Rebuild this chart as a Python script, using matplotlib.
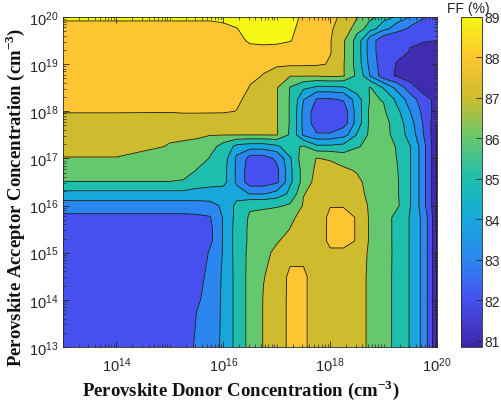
import numpy as np
import matplotlib.pyplot as plt
from matplotlib.colors import LinearSegmentedColormap, Normalize
from matplotlib.cm import ScalarMappable
from matplotlib.ticker import LogLocator, FixedLocator, NullFormatter

plt.rcParams['mathtext.fontset'] = 'custom'
plt.rcParams['mathtext.rm'] = 'Liberation Sans'
plt.rcParams['mathtext.bf'] = 'Liberation Serif:bold'
plt.rcParams['font.family'] = 'Liberation Sans'

# log10 of donor (x) and acceptor (y) concentration at the grid nodes
donor_exp = [13, 14, 15, 15.25, 15.5, 15.75, 16, 16.25, 16.5, 16.75, 17, 17.25,
             17.5, 17.75, 18, 18.25, 18.5, 18.75, 19, 19.25, 19.5, 19.75, 20]
acceptor_exp = [13, 14, 14.5, 15, 15.25, 15.5, 15.75, 16, 16.25, 16.5, 16.75, 17,
                17.25, 17.5, 17.75, 18, 18.25, 18.5, 18.75, 19, 19.25, 19.5, 19.75, 20]

# FF (%), one row per acceptor value
ff = [
    [82.3, 82.3, 82.35, 82.6, 83.16, 83.62, 84.19, 85.4, 86.36, 87.04, 87.63, 88.2, 88.2, 87.3, 87.4, 87.4, 87.3, 86.82, 86.32, 85.72, 84.9, 83.6, 80.9],
    [82.3, 82.3, 82.3, 82.45, 82.85, 83.47, 84.19, 85.4, 86.36, 87.04, 87.63, 88.2, 88.2, 87.3, 87.4, 87.4, 87.3, 86.82, 86.32, 85.72, 84.9, 83.6, 80.9],
    [82.3, 82.3, 82.3, 82.4, 82.7, 83.28, 84.19, 85.4, 86.36, 86.95, 87.55, 88.2, 88.2, 87.3, 87.4, 87.4, 87.3, 86.82, 86.32, 85.72, 84.9, 83.6, 80.9],
    [82.3, 82.3, 82.3, 82.35, 82.5, 83.1, 84.1, 85.5, 86.28, 86.81, 87.2, 87.5, 87.5, 87.6, 87.9, 87.9, 87.5, 86.8, 86.35, 85.72, 84.9, 83.6, 80.9],
    [82.3, 82.3, 82.3, 82.3, 82.4, 82.8, 84.1, 85.5, 86.2, 86.45, 86.9, 87.5, 87.5, 87.6, 88.2, 88.2, 87.95, 86.8, 86.3, 85.75, 84.9, 83.6, 80.9],
    [82.45, 82.45, 82.45, 82.45, 82.45, 82.8, 84.1, 85.5, 86.2, 86.4, 86.6, 87.02, 87.5, 87.6, 88.2, 88.2, 87.95, 86.8, 86.3, 85.75, 84.9, 83.6, 80.9],
    [82.8, 82.8, 82.8, 82.8, 82.85, 82.95, 84.1, 85.4, 86.15, 86.3, 86.4, 86.8, 87.4, 87.6, 88.2, 88.2, 87.95, 86.8, 86.3, 85.75, 84.9, 83.6, 80.9],
    [83.6, 83.6, 83.6, 83.6, 83.6, 83.7, 84.2, 85.3, 85.8, 85.8, 85.9, 86.1, 87.1, 87.6, 87.95, 87.95, 87.6, 86.8, 86.4, 86.15, 85.02, 83.25, 80.9],
    [84.75, 84.75, 84.75, 84.75, 84.75, 84.7, 84.6, 84.4, 83.95, 83.95, 84.3, 85.3, 86.95, 87.5, 87.7, 87.6, 87.3, 86.7, 86.4, 86.1, 85.02, 83.25, 80.9],
    [85.98, 85.98, 85.98, 85.95, 85.4, 85.3, 85.3, 83.8, 82.3, 82.3, 82.8, 84.8, 86.5, 87.4, 87.5, 87.5, 87.2, 86.6, 86.4, 86.1, 85.02, 83.25, 80.9],
    [86.5, 86.5, 86.5, 86.3, 85.98, 85.5, 85.3, 83.8, 82.3, 82.3, 82.8, 84.8, 86.5, 87.2, 87.3, 87.15, 86.9, 86.5, 86.4, 86.05, 85.02, 83.25, 80.9],
    [86.97, 86.97, 86.7, 86.6, 86.4, 85.95, 85.4, 83.8, 82.6, 82.6, 83.2, 84.9, 86.8, 87.02, 86.9, 86.5, 86.3, 86.5, 86.4, 85.98, 85.02, 83.25, 80.9],
    [87.3, 87.3, 86.9, 86.85, 86.7, 86.3, 85.6, 84.7, 84.5, 84.5, 84.8, 85.8, 86.1, 85.2, 85.2, 85.3, 85.95, 86.2, 86.3, 85.95, 85.02, 83.25, 80.9],
    [87.5, 87.5, 87.3, 87.2, 87.2, 87.05, 87.03, 87.02, 87.02, 87.02, 87.05, 85.8, 83.8, 83.1, 83.1, 83.6, 85.05, 86.3, 86.3, 85.6, 84.5, 83.0, 80.9],
    [87.75, 87.75, 87.65, 87.6, 87.6, 87.55, 87.5, 87.45, 87.4, 87.3, 87.05, 85.9, 83.7, 82.3, 82.3, 82.5, 84.5, 86.3, 86.3, 85.5, 84.3, 82.85, 81.0],
    [88.05, 88.05, 88.05, 88.1, 88.1, 88.1, 88.1, 87.98, 87.5, 87.4, 87.05, 85.9, 83.7, 82.3, 82.3, 82.5, 84.5, 86.3, 86.1, 85.2, 83.98, 82.6, 81.5],
    [88.3, 88.3, 88.3, 88.3, 88.3, 88.3, 88.3, 88.2, 87.6, 87.4, 87.05, 85.9, 84.05, 82.9, 82.9, 83.1, 84.6, 86.1, 85.95, 84.7, 83.4, 82.4, 81.6],
    [88.4, 88.4, 88.4, 88.4, 88.4, 88.4, 88.4, 88.35, 87.95, 87.5, 87.05, 85.95, 85.2, 84.8, 84.8, 84.9, 85.6, 86.05, 84.9, 83.6, 82.4, 81.4, 81.2],
    [88.45, 88.45, 88.45, 88.45, 88.45, 88.45, 88.45, 88.45, 88.2, 87.95, 87.5, 87.03, 87.05, 87.05, 87.2, 87.05, 85.75, 83.95, 82.3, 81.9, 81.4, 81.3, 81.2],
    [88.5, 88.5, 88.5, 88.5, 88.5, 88.5, 88.5, 88.5, 88.6, 88.3, 88.2, 88.2, 88.2, 88.15, 87.9, 87.05, 85.5, 83.6, 82.3, 81.95, 81.4, 81.3, 81.2],
    [88.55, 88.55, 88.55, 88.55, 88.55, 88.55, 88.55, 88.6, 88.8, 88.8, 88.75, 88.6, 88.3, 88.2, 88.05, 87.1, 85.5, 83.4, 82.3, 82.2, 81.95, 81.5, 81.4],
    [88.6, 88.6, 88.6, 88.6, 88.6, 88.6, 88.6, 88.85, 89.1, 89.15, 89.15, 89.05, 88.5, 88.3, 88.05, 87.1, 85.5, 83.4, 82.3, 82.2, 82.1, 82.1, 82.0],
    [88.7, 88.7, 88.7, 88.7, 88.7, 88.7, 88.85, 88.98, 89.3, 89.3, 89.3, 89.2, 88.6, 88.4, 88.1, 87.5, 86.5, 85.4, 84.3, 83.4, 82.8, 82.5, 82.3],
    [89.2, 89.2, 89.2, 89.2, 89.2, 89.2, 89.2, 89.3, 89.4, 89.4, 89.4, 89.3, 88.8, 88.5, 88.2, 87.8, 87.1, 86.3, 85.5, 84.8, 83.9, 83.1, 82.5],
]

x_ticks = [1e14, 1e16, 1e18, 1e20]
y_ticks = [1e13, 1e14, 1e15, 1e16, 1e17, 1e18, 1e19, 1e20]
levels = [80, 81, 82, 83, 84, 85, 86, 87, 88, 89, 90]
cbar_ticks = [81, 82, 83, 84, 85, 86, 87, 88, 89]
ff_min, ff_max = 80.85, 89.0

# parula-like colour anchors (value, colour)
anchor_vals = [80.85, 81, 82, 83, 84, 85, 86, 87, 88, 89]
anchor_cols = ['#3e26a8', '#3f2db2', '#4650ee', '#2c86ef', '#17a8dc', '#1ebeaf',
               '#63c86e', '#cdbc2e', '#fdc531', '#f6f614']

norm = Normalize(vmin=ff_min, vmax=ff_max)
parula = LinearSegmentedColormap.from_list(
    'parula_like', list(zip(norm(anchor_vals), anchor_cols)))
# MATLAB colours each filled band by its lower level
band_colors = [parula(norm(max(lv, ff_min))) for lv in levels[:-1]]

X, Y = np.meshgrid(10.0 ** np.array(donor_exp), 10.0 ** np.array(acceptor_exp))
Z = np.array(ff)

fig = plt.figure(figsize=(5.01, 4.06), dpi=100)
ax = fig.add_axes([0.1257, 0.1429, 0.7466, 0.8128])
ax.contourf(X, Y, Z, levels=levels, colors=band_colors)
ax.contour(X, Y, Z, levels=levels, colors='#1a1a1a', linewidths=0.6)

ax.set_xscale('log')
ax.set_yscale('log')
ax.set_xlim(1e13, 1e20)
ax.set_ylim(1e13, 1e20)
ax.xaxis.set_major_locator(FixedLocator(x_ticks))
ax.xaxis.set_minor_locator(LogLocator(base=10, subs=np.arange(1, 10), numticks=50))
ax.xaxis.set_minor_formatter(NullFormatter())
ax.yaxis.set_major_locator(FixedLocator(y_ticks))
ax.yaxis.set_minor_locator(LogLocator(base=10, subs=np.arange(2, 10), numticks=50))
ax.yaxis.set_minor_formatter(NullFormatter())

tick_col = '#262626'
ax.tick_params(which='both', direction='in', top=True, right=True, color=tick_col,
               labelcolor=tick_col, labelsize=10.5)
ax.tick_params(which='major', length=4, width=0.6)
ax.tick_params(which='minor', length=2, width=0.5)
ax.tick_params(axis='x', which='major', pad=6)
for s in ax.spines.values():
    s.set_color(tick_col)
    s.set_linewidth(0.6)

label_font = dict(family='Liberation Serif', weight='bold', size=13.5, color='#111111')
ax.set_xlabel(r'Perovskite Donor Concentration (cm$^{\mathbf{-3}}$)', **label_font)
ax.set_ylabel(r'Perovskite Acceptor Concentration (cm$^{\mathbf{-3}}$)', **label_font)
ax.xaxis.set_label_coords(0.475, -0.09)
ax.yaxis.set_label_coords(-0.097, 0.455)

cax = fig.add_axes([0.920, 0.1429, 0.042, 0.8128])
sm = ScalarMappable(norm=norm, cmap=parula)
cb = fig.colorbar(sm, cax=cax, ticks=cbar_ticks)
cb.outline.set_edgecolor(tick_col)
cb.outline.set_linewidth(0.6)
cax.tick_params(direction='in', length=4, width=0.6, pad=2, color=tick_col,
                labelcolor=tick_col, labelsize=10)
fig.text(0.935, 0.978, 'FF (%)', fontsize=10, color=tick_col, ha='center', va='center')

fig.savefig('out.png', dpi=100)
